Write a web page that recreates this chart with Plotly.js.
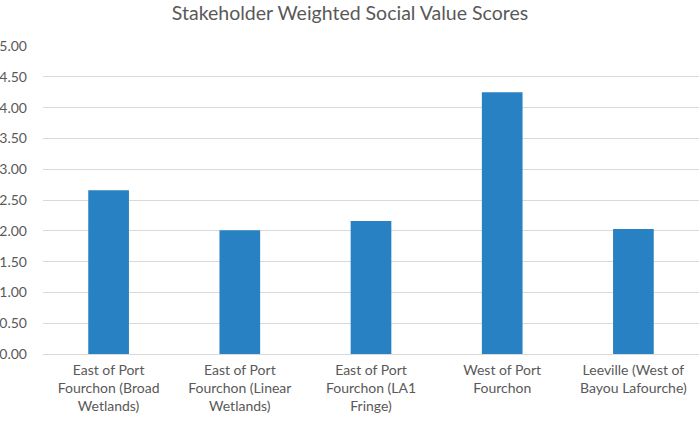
<!DOCTYPE html>
<html>
<head>
<meta charset="utf-8">
<script src="https://cdn.plot.ly/plotly-3.0.1.min.js"></script>
<style>
  html, body { margin: 0; padding: 0; background: #fff; }
  #chart { width: 699px; height: 422px; }
</style>
</head>
<body>
<div id="chart"></div>
<script>
// site labels and weighted scores
const sites = [
    'East of Port<br>Fourchon (Broad<br>Wetlands)',
    'East of Port<br>Fourchon (Linear<br>Wetlands)',
    'East of Port<br>Fourchon (LA1<br>Fringe)',
    'West of Port<br>Fourchon',
    'Leeville (West of<br>Bayou Lafourche)'
];
const scores = [2.66, 2.01, 2.16, 4.25, 2.03];
const yTicks = [0, 0.5, 1, 1.5, 2, 2.5, 3, 3.5, 4, 4.5, 5];

const trace = {
    x: sites,
    y: scores,
    type: 'bar',
    marker: { color: '#2781c2' },
    hoverinfo: 'x+y',
};

const layout = {
    title: {
        text: 'Stakeholder Weighted Social Value Scores',
        font: { family: 'Lato, sans-serif', size: 19.5, color: '#595959' },
        x: 0.5, xanchor: 'center',
        y: 0.968, yanchor: 'middle',
    },
    font: { family: 'Lato, sans-serif', size: 13, color: '#595959' },
    xaxis: {
        showgrid: false,
        showline: false,
        ticks: '',
        ticklabelstandoff: 6,
        tickfont: { size: 14, color: '#595959' },
    },
    yaxis: {
        range: [0, 5],
        tickvals: yTicks,
        tickformat: '.2f',
        gridcolor: '#d9d9d9',
        gridwidth: 1,
        zeroline: true,
        zerolinecolor: '#d9d9d9',
        showline: false,
        ticks: '',
        ticklabelstandoff: 15,
        tickfont: { size: 14, color: '#595959' },
    },
    bargap: 0.69,
    showlegend: false,
    margin: { l: 43, r: 1, t: 46, b: 68 },
    paper_bgcolor: '#ffffff',
    plot_bgcolor: '#ffffff',
};

Plotly.newPlot('chart', [trace], layout, { displayModeBar: false, staticPlot: true });
</script>
</body>
</html>
